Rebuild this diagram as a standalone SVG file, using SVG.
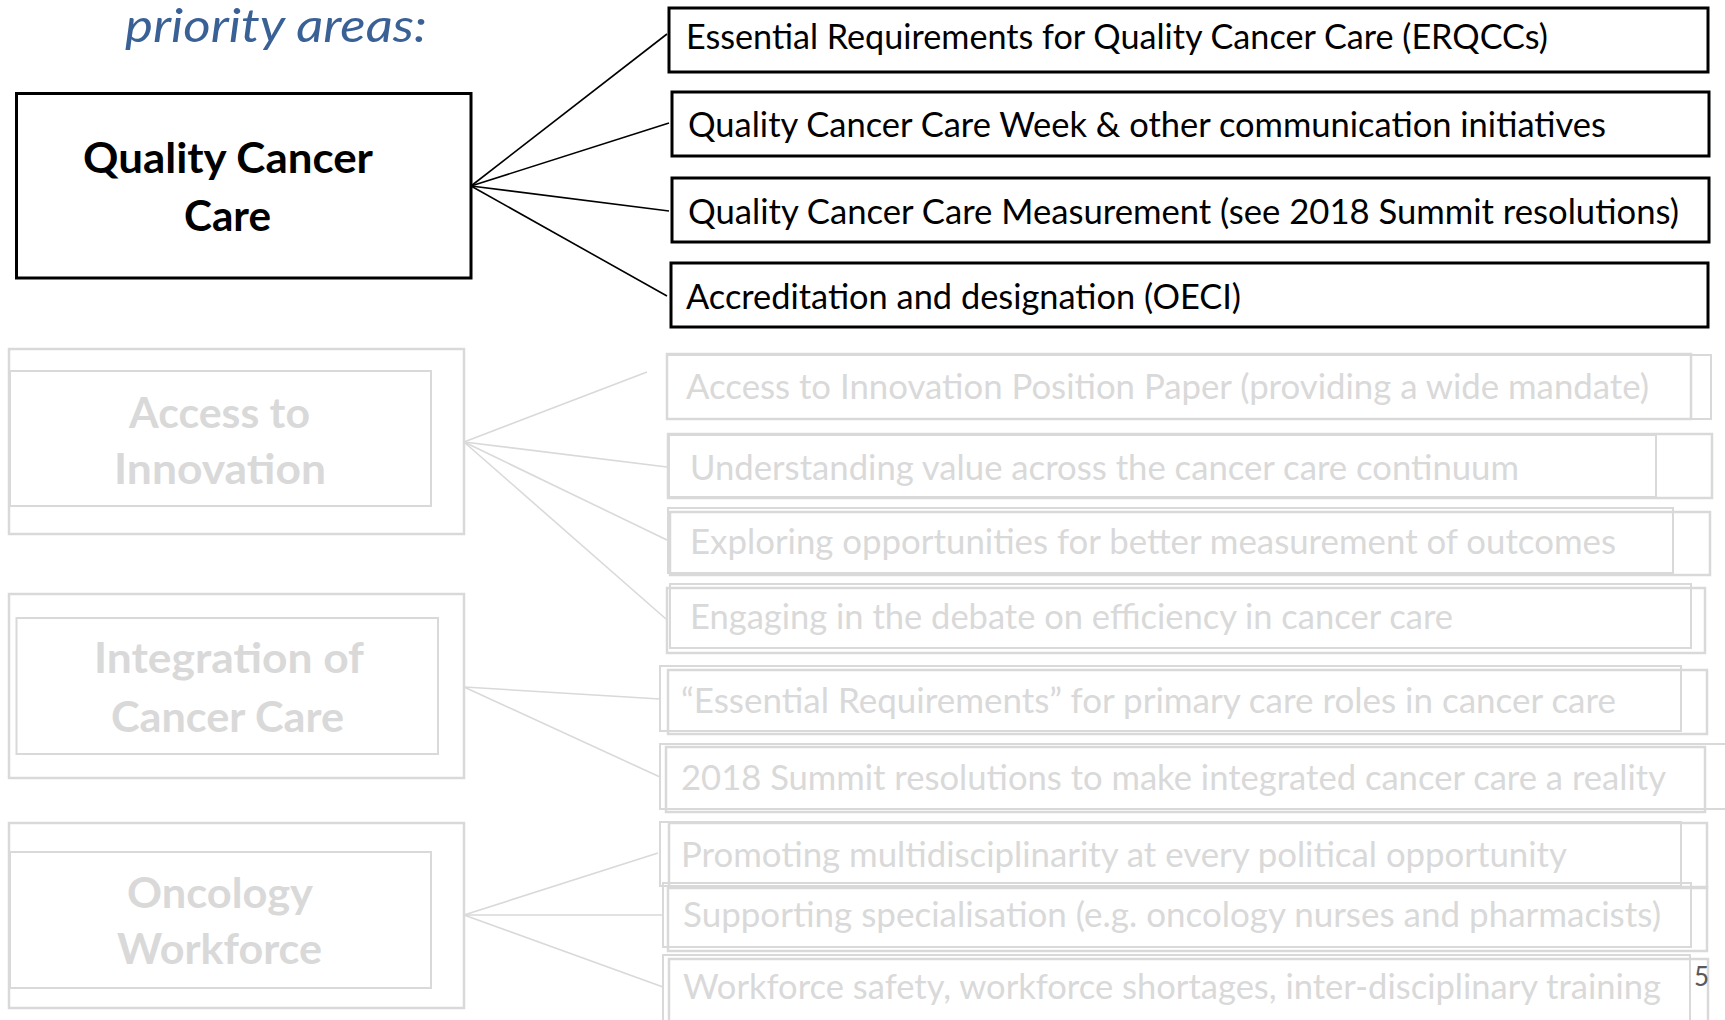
<svg xmlns="http://www.w3.org/2000/svg" width="1725" height="1020" viewBox="0 0 1725 1020">
<style>
.bg{fill:#ffffff}
.box{fill:none;stroke:#000;stroke-width:3}
.gbox{fill:none;stroke:#d9d9d9;stroke-width:2.5}
.gline{fill:none;stroke:#d9d9d9;stroke-width:2}
.con{stroke:#000;stroke-width:1.6;fill:none}
.gcon{stroke:#d9d9d9;stroke-width:1.6;fill:none}
.t{font-family:Lato,"Open Sans","Liberation Sans",sans-serif;font-size:34px;fill:#000}
.gt{font-family:Lato,"Open Sans","Liberation Sans",sans-serif;font-size:34px;fill:#d9d9d9}
.hb{font-family:Lato,"Open Sans","Liberation Sans",sans-serif;font-size:42px;font-weight:bold;fill:#000}
.ghb{font-family:Lato,"Open Sans","Liberation Sans",sans-serif;font-size:42px;font-weight:bold;fill:#d9d9d9}
.title{font-family:Lato,"Open Sans","Liberation Sans",sans-serif;font-size:47px;font-style:italic;fill:#3a6196}
.pg{font-family:Lato,"Open Sans","Liberation Sans",sans-serif;font-size:26px;fill:#595959}
</style>
<rect class="bg" x="0" y="0" width="1725" height="1020"/>
<text class="title" x="125" y="42" textLength="302" lengthAdjust="spacingAndGlyphs">priority areas:</text>

<g id="connectors">
<line class="con" x1="471" y1="186" x2="667" y2="34"/>
<line class="con" x1="471" y1="186" x2="669" y2="123"/>
<line class="con" x1="471" y1="186" x2="669" y2="211"/>
<line class="con" x1="471" y1="186" x2="667" y2="296"/>
<line class="gcon" x1="464" y1="442" x2="647" y2="372"/>
<line class="gcon" x1="464" y1="442" x2="667" y2="467"/>
<line class="gcon" x1="464" y1="442" x2="667" y2="540"/>
<line class="gcon" x1="464" y1="442" x2="666" y2="619"/>
<line class="gcon" x1="464" y1="687" x2="660" y2="699"/>
<line class="gcon" x1="464" y1="687" x2="660" y2="777"/>
<line class="gcon" x1="464" y1="915" x2="658" y2="853"/>
<line class="gcon" x1="464" y1="915" x2="663" y2="915"/>
<line class="gcon" x1="464" y1="915" x2="663" y2="987"/>
</g>

<g id="node-quality">
<rect class="box" x="16.5" y="93.5" width="454.5" height="184.5"/>
<text class="hb" x="83" y="173" textLength="290" lengthAdjust="spacingAndGlyphs">Quality Cancer</text>
<text class="hb" x="184" y="231" textLength="87" lengthAdjust="spacingAndGlyphs">Care</text>
</g>

<g id="node-q1">
<rect class="box" x="669" y="8" width="1039" height="64"/>
<text class="t" x="686" y="49" textLength="862" lengthAdjust="spacingAndGlyphs">Essential Requirements for Quality Cancer Care (ERQCCs)</text>
</g>
<g id="node-q2">
<rect class="box" x="672" y="92" width="1037" height="64"/>
<text class="t" x="688" y="137" textLength="918" lengthAdjust="spacingAndGlyphs">Quality Cancer Care Week &amp; other communication initiatives</text>
</g>
<g id="node-q3">
<rect class="box" x="672" y="178" width="1037" height="64"/>
<text class="t" x="688" y="224" textLength="991" lengthAdjust="spacingAndGlyphs">Quality Cancer Care Measurement (see 2018 Summit resolutions)</text>
</g>
<g id="node-q4">
<rect class="box" x="671" y="263" width="1037" height="64"/>
<text class="t" x="686" y="309" textLength="555" lengthAdjust="spacingAndGlyphs">Accreditation and designation (OECI)</text>
</g>

<g id="node-access">
<rect class="gbox" x="9" y="349" width="455" height="185"/>
<rect class="gline" x="10" y="371" width="421" height="135"/>
<text class="ghb" x="129" y="428" textLength="181" lengthAdjust="spacingAndGlyphs">Access to</text>
<text class="ghb" x="114" y="484" textLength="212" lengthAdjust="spacingAndGlyphs">Innovation</text>
</g>
<g id="node-integration">
<rect class="gbox" x="9" y="594" width="455" height="184"/>
<rect class="gline" x="16.5" y="618" width="421.5" height="136"/>
<text class="ghb" x="94" y="673" textLength="270" lengthAdjust="spacingAndGlyphs">Integration of</text>
<text class="ghb" x="111" y="732" textLength="233" lengthAdjust="spacingAndGlyphs">Cancer Care</text>
</g>
<g id="node-workforce">
<rect class="gbox" x="9" y="823" width="455" height="185"/>
<rect class="gline" x="10" y="852" width="421" height="136"/>
<text class="ghb" x="127" y="908" textLength="186" lengthAdjust="spacingAndGlyphs">Oncology</text>
<text class="ghb" x="117" y="964" textLength="205" lengthAdjust="spacingAndGlyphs">Workforce</text>
</g>

<g id="node-a1">
<rect class="gbox" x="667" y="354" width="1024" height="65"/>
<rect class="gline" x="667" y="355" width="1044" height="64"/>
<text class="gt" x="686" y="399" textLength="963" lengthAdjust="spacingAndGlyphs">Access to Innovation Position Paper (providing a wide mandate)</text>
</g>
<g id="node-a2">
<rect class="gbox" x="668" y="434" width="1044" height="64"/>
<rect class="gline" x="669" y="435" width="987" height="62"/>
<text class="gt" x="690" y="480" textLength="829" lengthAdjust="spacingAndGlyphs">Understanding value across the cancer care continuum</text>
</g>
<g id="node-a3">
<rect class="gline" x="668" y="508" width="1005" height="65"/>
<rect class="gbox" x="670" y="512" width="1040" height="63"/>
<text class="gt" x="690" y="554" textLength="926" lengthAdjust="spacingAndGlyphs">Exploring opportunities for better measurement of outcomes</text>
</g>
<g id="node-a4">
<rect class="gline" x="670" y="584" width="1021" height="64"/>
<rect class="gbox" x="667" y="588" width="1038" height="65"/>
<text class="gt" x="690" y="629" textLength="763" lengthAdjust="spacingAndGlyphs">Engaging in the debate on efficiency in cancer care</text>
</g>
<g id="node-i1">
<rect class="gline" x="660" y="666" width="1021" height="65"/>
<rect class="gbox" x="668" y="670" width="1039" height="64"/>
<text class="gt" x="681" y="713" textLength="935" lengthAdjust="spacingAndGlyphs">“Essential Requirements” for primary care roles in cancer care</text>
</g>
<g id="node-i2">
<rect class="gline" x="660" y="744" width="1075" height="65"/>
<rect class="gbox" x="666" y="747" width="1039" height="65"/>
<text class="gt" x="681" y="790" textLength="985" lengthAdjust="spacingAndGlyphs">2018 Summit resolutions to make integrated cancer care a reality</text>
</g>
<g id="node-o1">
<rect class="gline" x="660" y="822" width="1021" height="64"/>
<rect class="gbox" x="669" y="823" width="1038" height="65"/>
<text class="gt" x="681" y="867" textLength="886" lengthAdjust="spacingAndGlyphs">Promoting multidisciplinarity at every political opportunity</text>
</g>
<g id="node-o2">
<rect class="gline" x="663" y="883" width="1028" height="64"/>
<rect class="gbox" x="668" y="887" width="1039" height="64"/>
<text class="gt" x="683" y="927" textLength="978" lengthAdjust="spacingAndGlyphs">Supporting specialisation (e.g. oncology nurses and pharmacists)</text>
</g>
<g id="node-o3">
<rect class="gline" x="663" y="955" width="1027" height="75"/>
<rect class="gbox" x="669" y="959" width="1039" height="75"/>
<text class="gt" x="683" y="999" textLength="978" lengthAdjust="spacingAndGlyphs">Workforce safety, workforce shortages, inter-disciplinary training</text>
</g>

<text class="pg" x="1694" y="986">5</text>
</svg>
